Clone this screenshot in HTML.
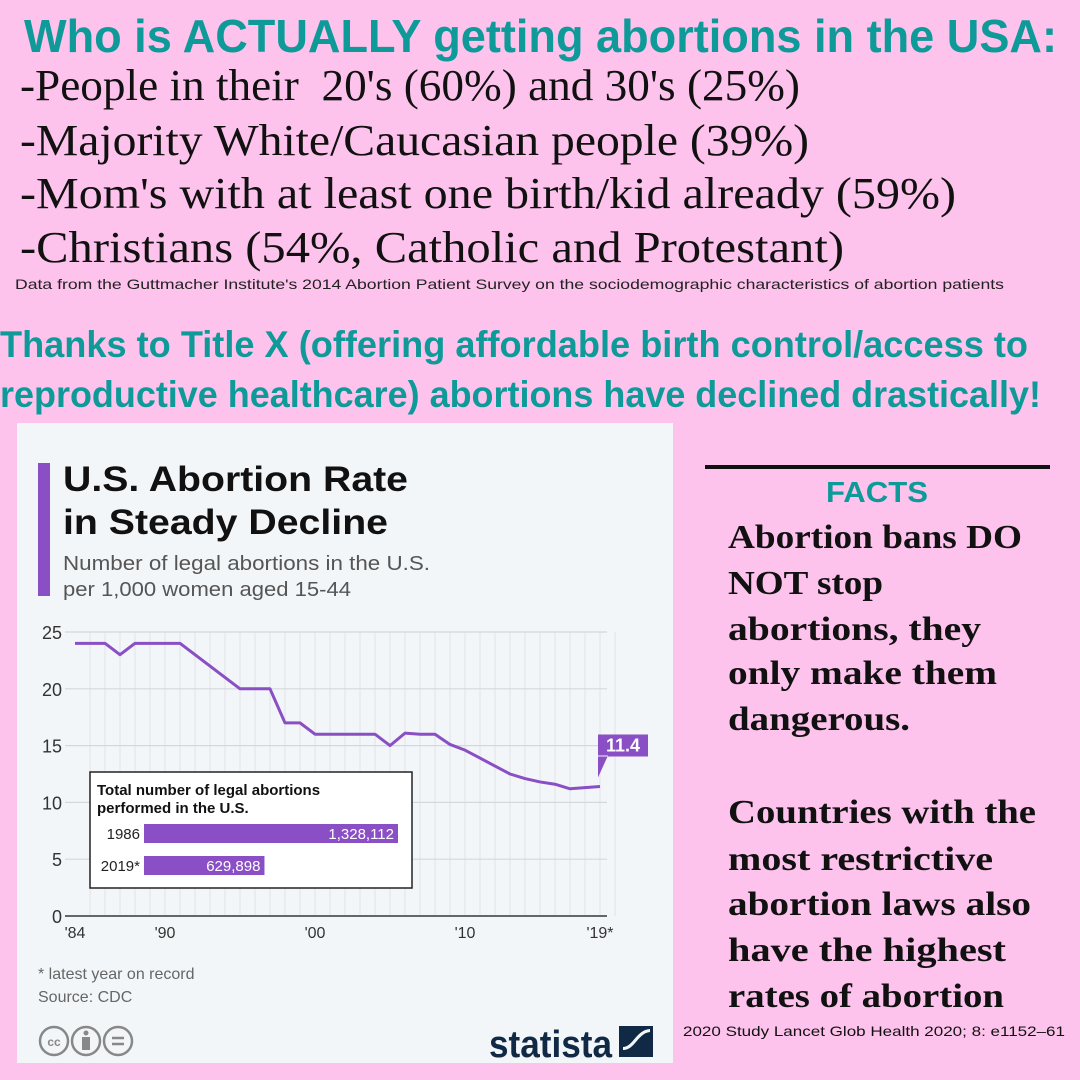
<!DOCTYPE html>
<html><head><meta charset="utf-8"><style>
html,body{margin:0;padding:0;background:#fdc3ec;}
svg{display:block;}
.serif{font-family:"Liberation Serif",serif;}
.sans{font-family:"Liberation Sans",sans-serif;}
</style></head><body>
<svg id="root" width="1080" height="1080" viewBox="0 0 1080 1080" xmlns="http://www.w3.org/2000/svg">
<rect width="1080" height="1080" fill="#fdc3ec"/>
<g>
<text class="sans" x="24" y="52" font-size="46" font-weight="bold" fill="#0e9a98" textLength="1033" lengthAdjust="spacingAndGlyphs">Who is ACTUALLY getting abortions in the USA:</text>
<text class="serif" x="20" y="100" font-size="44" fill="#111" textLength="780" lengthAdjust="spacingAndGlyphs">-People in their&#160; 20's (60%) and 30's (25%)</text>
<text class="serif" x="20" y="155" font-size="44" fill="#111" textLength="789" lengthAdjust="spacingAndGlyphs">-Majority White/Caucasian people (39%)</text>
<text class="serif" x="20" y="208" font-size="44" fill="#111" textLength="936" lengthAdjust="spacingAndGlyphs">-Mom's with at least one birth/kid already (59%)</text>
<text class="serif" x="20" y="262" font-size="44" fill="#111" textLength="824" lengthAdjust="spacingAndGlyphs">-Christians (54%, Catholic and Protestant)</text>
<text class="sans" x="15" y="289" font-size="14" fill="#222" textLength="989" lengthAdjust="spacingAndGlyphs">Data from the Guttmacher Institute's 2014 Abortion Patient Survey on the sociodemographic characteristics of abortion patients</text>
<text class="sans" x="0" y="357" font-size="37" font-weight="bold" fill="#0e9a98" textLength="1028" lengthAdjust="spacingAndGlyphs">Thanks to Title X (offering affordable birth control/access to</text>
<text class="sans" x="0" y="407" font-size="37" font-weight="bold" fill="#0e9a98" textLength="1041" lengthAdjust="spacingAndGlyphs">reproductive healthcare) abortions have declined drastically!</text>
</g>

<g>
<rect x="17" y="423" width="656" height="640" fill="#f3f6f9"/>
<rect x="38" y="463" width="12" height="133" fill="#8a4fc4"/>
<text class="sans" x="63" y="491" font-size="35" font-weight="bold" fill="#111" textLength="345" lengthAdjust="spacingAndGlyphs">U.S. Abortion Rate</text>
<text class="sans" x="63" y="534" font-size="35" font-weight="bold" fill="#111" textLength="325" lengthAdjust="spacingAndGlyphs">in Steady Decline</text>
<text class="sans" x="63" y="570" font-size="20" fill="#555" textLength="367" lengthAdjust="spacingAndGlyphs">Number of legal abortions in the U.S.</text>
<text class="sans" x="63" y="596" font-size="20" fill="#555" textLength="288" lengthAdjust="spacingAndGlyphs">per 1,000 women aged 15-44</text>
<g id="plot"></g>
<text class="sans" x="38" y="979" font-size="16" fill="#666">* latest year on record</text>
<text class="sans" x="38" y="1002" font-size="16" fill="#666">Source: CDC</text>
<g fill="none" stroke="#888" stroke-width="2.5">
<circle cx="54" cy="1041" r="14"/><circle cx="86" cy="1041" r="14"/><circle cx="118" cy="1041" r="14"/>
<text x="54" y="1046" font-size="12" font-weight="bold" fill="#888" stroke="none" text-anchor="middle" class="sans">cc</text>
<circle cx="86" cy="1033" r="2.5" fill="#888" stroke="none"/><rect x="82" y="1037" width="8" height="13" fill="#888" stroke="none"/>
<line x1="112" y1="1038" x2="124" y2="1038"/><line x1="112" y1="1044" x2="124" y2="1044"/>
</g>
<text class="sans" x="489" y="1057" font-size="38" font-weight="bold" fill="#102a45" textLength="123" lengthAdjust="spacingAndGlyphs">statista</text>
<g><rect x="619" y="1026" width="34" height="31" fill="#102a45"/><path d="M623 1050 C 635 1050, 638 1033, 650 1032 L650 1029 C 636 1030, 633 1047, 623 1047 Z" fill="#f3f6f9"/></g>
</g>

<g>
<rect x="705" y="465" width="345" height="4" fill="#111"/>
<text class="sans" x="877" y="502" font-size="29" font-weight="bold" fill="#0e9a98" text-anchor="middle" textLength="102" lengthAdjust="spacingAndGlyphs">FACTS</text>
<g class="serif" font-size="34" font-weight="bold" fill="#111">
<text x="728" y="548" textLength="294" lengthAdjust="spacingAndGlyphs">Abortion bans DO</text>
<text x="728" y="594" textLength="155" lengthAdjust="spacingAndGlyphs">NOT stop</text>
<text x="728" y="640" textLength="253" lengthAdjust="spacingAndGlyphs">abortions, they</text>
<text x="728" y="684" textLength="269" lengthAdjust="spacingAndGlyphs">only make them</text>
<text x="728" y="730" textLength="182" lengthAdjust="spacingAndGlyphs">dangerous.</text>
<text x="728" y="823" textLength="308" lengthAdjust="spacingAndGlyphs">Countries with the</text>
<text x="728" y="870" textLength="265" lengthAdjust="spacingAndGlyphs">most restrictive</text>
<text x="728" y="915" textLength="303" lengthAdjust="spacingAndGlyphs">abortion laws also</text>
<text x="728" y="961" textLength="278" lengthAdjust="spacingAndGlyphs">have the highest</text>
<text x="728" y="1007" textLength="276" lengthAdjust="spacingAndGlyphs">rates of abortion</text>
</g>
<text class="sans" x="683" y="1036" font-size="14" fill="#111" textLength="382" lengthAdjust="spacingAndGlyphs">2020 Study Lancet Glob Health 2020; 8: e1152–61</text>
</g>
</svg>
<script>
const years = [1984,1985,1986,1987,1988,1989,1990,1991,1992,1993,1994,1995,1996,1997,1998,1999,2000,2001,2002,2003,2004,2005,2006,2007,2008,2009,2010,2011,2012,2013,2014,2015,2016,2017,2018,2019];
const rates = [24,24,24,23,24,24,24,24,23,22,21,20,20,20,17,17,16,16,16,16,16,15,16.1,16,16,15.1,14.6,13.9,13.2,12.5,12.1,11.8,11.6,11.2,11.3,11.4];
const yTicks = [0,5,10,15,20,25];
const xTickYears = [1984,1990,2000,2010,2019];
const xTickLabels = ["'84","'90","'00","'10","'19*"];
const totalYears = ["1986","2019*"];
const totalValues = [1328112,629898];
const totalLabels = ["1,328,112","629,898"];
const lastLabel = "11.4";

const NS = "http://www.w3.org/2000/svg";
const plot = document.getElementById('plot');
const x = y => 75 + (y - 1984) * 15;
const yv = v => 916 - v * 11.36;
function mk(tag, attrs, parent){const e=document.createElementNS(NS,tag);for(const k in attrs)e.setAttribute(k,attrs[k]);(parent||plot).appendChild(e);return e;}

for (let yr = 1985; yr <= 2020; yr++) {
  const l = mk('line',{x1:x(yr),x2:x(yr),y1:yv(25),y2:yv(0),stroke:'#e0e3e7','stroke-width':1});
  
  
}
yTicks.forEach(t => {
  const l = mk('line',{x1:65,x2:607,y1:yv(t),y2:yv(t),stroke:t===0?'#666':'#d4d8dc','stroke-width':t===0?2:1.2});
  
  
  const tx = mk('text',{x:62,y:yv(t)+7,'font-size':18,fill:'#333','text-anchor':'end','font-family':'Liberation Sans, sans-serif'});
  tx.textContent = t;
  
  
});
xTickYears.forEach((yr,i) => {
  const tx = mk('text',{x:x(yr),y:938,'font-size':16,fill:'#333','text-anchor':'middle','font-family':'Liberation Sans, sans-serif'});
  tx.textContent = xTickLabels[i];
  
  
});
const line = mk('polyline',{points:years.map((yr,i)=>x(yr)+','+yv(rates[i])).join(' '),fill:'none',stroke:'#8a4fc4','stroke-width':3,'stroke-linejoin':'round'});



const lx = x(years[years.length-1]), ly = yv(rates[rates.length-1]);
const cb = mk('path',{d:`M${lx-2} ${ly-30} h50 v-22 h-50 z M${lx-2} ${ly-9} L${lx-2} ${ly-31} L${lx+8} ${ly-31} Z`,fill:'#8a4fc4'});


const ct = mk('text',{x:lx+23,y:ly-35,'font-size':18,'font-weight':'bold',fill:'#fff','text-anchor':'middle','font-family':'Liberation Sans, sans-serif'});
ct.textContent = lastLabel;



const box = mk('rect',{x:90,y:772,width:322,height:116,fill:'#fff',stroke:'#222','stroke-width':1.5});


['Total number of legal abortions','performed in the U.S.'].forEach((s,i)=>{
  const t = mk('text',{x:97,y:795+i*18,'font-size':15,'font-weight':'bold',fill:'#111','font-family':'Liberation Sans, sans-serif'});
  t.textContent = s;
  
  
});
const bx = v => 254 * v / 1328112;
totalValues.forEach((v,i)=>{
  const by = 824 + i*32;
  const r = mk('rect',{x:144,y:by,width:bx(v),height:19,fill:'#8a4fc4'});
  
  
  const lab = mk('text',{x:140,y:by+15,'font-size':15,fill:'#222','text-anchor':'end','font-family':'Liberation Sans, sans-serif'});
  lab.textContent = totalYears[i];
  
  
  const val = mk('text',{x:144+bx(v)-4,y:by+15,'font-size':15,fill:'#fff','text-anchor':'end','font-family':'Liberation Sans, sans-serif'});
  val.textContent = totalLabels[i];
  
  
});
</script>
</body></html>
